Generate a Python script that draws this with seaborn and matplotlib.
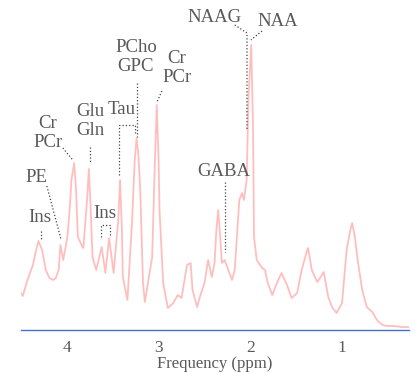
import pandas as pd
import matplotlib
matplotlib.use('Agg')
import matplotlib.pyplot as plt
import seaborn as sns

# spectrum: chemical shift (ppm) and signal (a.u.)
ppm = [4.50, 4.48, 4.43, 4.37, 4.34, 4.31, 4.27, 4.23, 4.19, 4.15, 4.12, 4.09,
       4.07, 4.04, 4.01, 3.99, 3.97, 3.95, 3.92, 3.90, 3.88, 3.83, 3.82, 3.78,
       3.76, 3.74, 3.72, 3.68,
       3.62, 3.58, 3.54, 3.49, 3.44, 3.42, 3.40, 3.39, 3.34, 3.29, 3.26, 3.24,
       3.22, 3.20, 3.17, 3.15,
       3.07, 3.04, 3.02, 3.00, 2.99, 2.95, 2.90, 2.84, 2.79, 2.75, 2.69, 2.65,
       2.63, 2.58,
       2.55, 2.50, 2.46, 2.42, 2.39, 2.37, 2.35, 2.33, 2.31, 2.28, 2.24, 2.20,
       2.17, 2.12,
       2.09, 2.07, 2.04, 2.02, 1.99, 1.97, 1.96, 1.93, 1.87, 1.84, 1.81, 1.76,
       1.71, 1.66, 1.60, 1.55, 1.49, 1.44, 1.38, 1.37, 1.33, 1.27, 1.24, 1.20,
       1.15, 1.11, 1.06, 1.00, 0.95, 0.91, 0.89, 0.86, 0.83, 0.78, 0.73, 0.67,
       0.62, 0.56, 0.50, 0.44, 0.35, 0.26]
signal = [37, 34, 50, 65, 78, 89, 80, 60, 52, 50, 52, 60,
          85, 70, 85, 97, 120, 150, 167, 140, 93, 83, 82, 130,
          161, 120, 73, 60,
          83, 57, 92, 57, 110, 150, 100, 53, 30, 107, 170, 192,
          175, 140, 47, 28,
          73, 170, 225, 170, 120, 47, 22, 27, 35, 32, 65, 67,
          40, 23,
          33, 47, 70, 53, 67, 100, 120, 95, 67, 70, 60, 50,
          60, 130,
          137, 130, 150, 233, 285, 200, 93, 70, 62, 60, 47, 35,
          47, 57, 45, 32, 37, 60, 80, 82, 60, 48, 52, 58,
          33, 23, 17, 27, 80, 100, 107, 93, 70, 40, 23, 18,
          10, 5, 4, 4, 3, 3]

ticks = [4, 3, 2, 1]

# metabolite labels: text, text position, leader path (all layout)
labels = [
    ('NAAG', (2.39, 313), [(2.17, 305), (2.036, 297), (2.036, 200)]),
    ('NAA', (1.70, 308), [(1.873, 299), (1.993, 290)]),
    ('PCho\nGPC', (3.247, 273), [(3.236, 247), (3.236, 193)]),
    ('Cr\nPCr', (2.80, 262), [(2.964, 239), (3.018, 228)]),
    ('Glu\nGln', (3.749, 209), [(3.749, 183), (3.749, 168)]),
    ('Tau', (3.40, 220), [(3.433, 155), (3.433, 205), (3.258, 205), (3.258, 197)]),
    ('Cr\nPCr', (4.207, 197), [(4.044, 182), (3.935, 170)]),
    ('PE', (4.327, 152), [(4.218, 144), (4.065, 91)]),
    ('Ins', (4.295, 113), [(4.284, 99), (4.284, 90)]),
    ('Ins', (3.585, 116), [(3.629, 93), (3.629, 105), (3.531, 105), (3.531, 95)]),
    ('GABA', (2.287, 158), [(2.276, 148), (2.276, 78)]),
]

df = pd.DataFrame({'ppm': ppm, 'signal': signal})

sns.set_style('white')
plt.rcParams['font.family'] = ['Liberation Serif', 'DejaVu Serif']

fig = plt.figure(figsize=(4.2, 3.73), dpi=100)
ax = fig.add_axes([21 / 420, 43 / 373, 388 / 420, 330 / 373])

sns.lineplot(data=df, x='ppm', y='signal', ax=ax, color='#ff8a8a',
             alpha=0.55, linewidth=1.3, estimator=None)

text_c = '#595959'
for txt, (tx, ty), path in labels:
    ax.text(tx, ty, txt, ha='center', va='center', fontsize=13.5,
            color=text_c, linespacing=1.1, clip_on=False)
    ax.plot([p[0] for p in path], [p[1] for p in path], ':',
            color='#444444', linewidth=0.9, clip_on=False)

ax.set_xlim(4.5, 0.27)
ax.set_ylim(0, 330)
ax.set_xticks(ticks)
ax.set_xticklabels([str(t) for t in ticks])
ax.set_yticks([])
ax.set_ylabel('')
ax.set_xlabel('Frequency (ppm)', fontsize=12, color=text_c, labelpad=0)

for s in ['top', 'right', 'left']:
    ax.spines[s].set_visible(False)
ax.spines['bottom'].set_color('#4472c4')
ax.spines['bottom'].set_linewidth(1.0)
ax.tick_params(axis='x', colors='#4472c4', length=4, width=1.0,
               labelcolor=text_c, labelsize=12.5, pad=3)

fig.savefig('out.png', dpi=100, facecolor='white')
